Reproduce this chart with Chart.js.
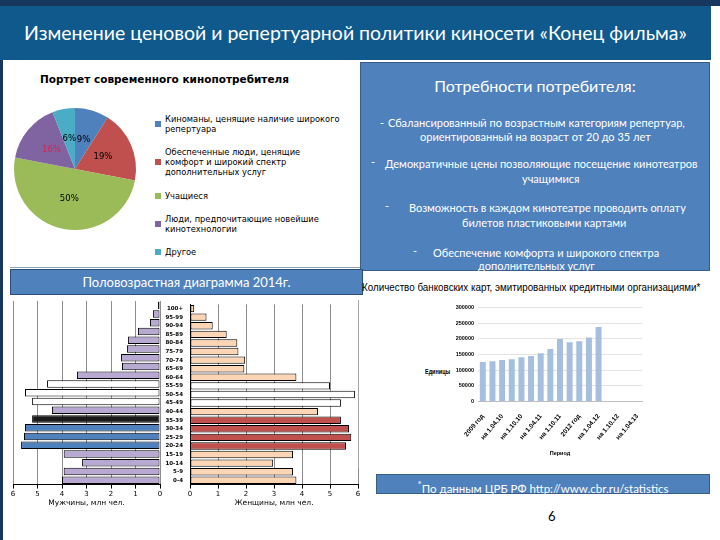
<!DOCTYPE html>
<html>
<head>
<meta charset="utf-8">
<script src="https://cdn.jsdelivr.net/npm/chart.js@4.4.1/dist/chart.umd.min.js"></script>
<style>
body { margin: 0; width: 720px; height: 540px; position: relative; background: #fff; overflow: hidden; font-family: Lato, sans-serif; }
.abs { position: absolute; }
canvas { display: block; }
.box { background: #4F81BD; border: 1px solid #385D8A; color: #fff; box-sizing: border-box; }
.needs span { position: absolute; font-size: 11px; line-height: 14px; white-space: nowrap; }
.fit { white-space: nowrap; transform-origin: 0 0; }
#pieLegend { left: 155px; top: 114px; height: 143px; display: flex; flex-direction: column; justify-content: space-between; font-family: "DejaVu Sans"; font-size: 8.3px; line-height: 10px; color: #000; }
#pieLegend .item { display: flex; align-items: center; }
#pieLegend .sw { width: 6px; height: 6px; margin-right: 4px; flex: none; }
</style>
</head>
<body>

<!-- slide frame -->
<div class="abs" style="left:0;top:0;width:720px;height:6px;background:#17375E"></div>
<div class="abs" style="left:0;top:0;width:3px;height:540px;background:#17375E"></div>
<div class="abs" style="left:0;top:6px;width:711px;height:54px;background:#10598D;color:#fff;font-size:19.5px;line-height:54px;text-align:center">Изменение ценовой и репертуарной политики киносети «Конец фильма»</div>

<!-- pie panel -->
<div class="abs" style="left:40px;top:73px;font-family:'DejaVu Sans';font-weight:bold;font-size:10.5px;color:#000;white-space:nowrap">Портрет современного кинопотребителя</div>
<div class="abs" style="left:10px;top:104px;width:130px;height:130px"><canvas id="pie"></canvas></div>
<div class="abs" id="pieLegend"></div>
<div class="abs" style="left:10px;top:267px;width:350px;height:1px;background:#8EA3BA"></div>

<!-- needs box -->
<div class="abs box needs" style="left:360px;top:62px;width:350px;height:209px">
  <div class="abs" style="left:0;top:13px;width:348px;text-align:center;font-size:16px;line-height:20px">Потребности потребителя:</div>
  <span style="left:19px;top:53px">-</span><span style="left:27px;top:53px">Сбалансированный по возрастным категориям репертуар,</span>
  <span style="left:59px;top:67px">ориентированный на возраст от 20 до 35 лет</span>
  <span style="left:10px;top:92px">-</span><span style="left:24px;top:94px">Демократичные цены позволяющие посещение кинотеатров</span>
  <span style="left:161px;top:109px">учащимися</span>
  <span style="left:24px;top:136px">-</span><span style="left:48px;top:138px">Возможность в каждом кинотеатре проводить оплату</span>
  <span style="left:101px;top:153px">билетов пластиковыми картами</span>
  <span style="left:52px;top:181px">-</span><span style="left:72px;top:183px">Обеспечение комфорта и широкого спектра</span>
  <span style="left:117px;top:196px">дополнительных услуг</span>
</div>

<!-- pyramid -->
<div class="abs box" style="left:10px;top:269px;width:353px;height:26px;font-size:13px;line-height:24px;text-align:center;border-color:#2C4D75">Половозрастная диаграмма 2014г.</div>
<div class="abs" style="left:0;top:297px;width:170px;height:211px"><canvas id="men"></canvas></div>
<div class="abs" style="left:165px;top:297px;width:201px;height:211px"><canvas id="women"></canvas></div>

<!-- cards chart -->
<div class="abs fit" id="cardsTitle" data-w="338" style="left:362px;top:281px;font-family:'Liberation Sans';font-size:11px;color:#000">Количество банковских карт, эмитированных кредитными организациями*</div>
<div class="abs" style="left:358px;top:300px;width:1px;height:168px;background:#A6A6A6"></div>
<div class="abs fit" data-w="25" style="left:425px;top:368px;font-family:'Liberation Sans';font-weight:bold;font-size:7px;color:#000">Единицы</div>
<div class="abs" style="left:428px;top:300px;width:240px;height:161px"><canvas id="cards"></canvas></div>

<div class="abs box" style="left:376px;top:474px;width:334px;height:20px;font-size:11.5px;line-height:19px;text-align:center"><sup style="font-size:10px">*</sup>По данным ЦРБ РФ http://www.cbr.ru/statistics</div>
<div class="abs" style="left:548px;top:508px;font-size:13px;color:#000">6</div>

<script>
// pie: consumer portrait
const pieLabels = [
	["Киноманы, ценящие наличие широкого", "репертуара"],
	["Обеспеченные люди, ценящие", "комфорт и широкий спектр", "дополнительных услуг"],
	["Учащиеся"],
	["Люди, предпочитающие новейшие", "кинотехнологии"],
	["Другое"]
];
const pieValues = [9, 19, 50, 16, 6];

// age-sex pyramid 2014, million people
const ageGroups = ["100+", "95-99", "90-94", "85-89", "80-84", "75-79", "70-74", "65-69", "60-64", "55-59", "50-54",
	"45-49", "40-44", "35-39", "30-34", "25-29", "20-24", "15-19", "10-14", "5-9", "0-4"];
const menValues = [0.08, 0.29, 0.41, 0.9, 1.31, 1.35, 1.59, 1.55, 3.39, 4.61, 5.51,
	5.22, 4.41, 5.22, 5.51, 5.55, 5.67, 3.93, 3.18, 3.93, 4.0];
const womenValues = [0.15, 0.59, 0.81, 1.31, 1.69, 1.73, 1.97, 1.94, 3.8, 5.0, 5.89,
	5.39, 4.57, 5.39, 5.68, 5.76, 5.57, 3.68, 2.97, 3.68, 3.8];
const pyramidTicks = [0, 1, 2, 3, 4, 5, 6];

// bank cards issued
const cardPeriods = ["2009 год", "на 1.01.10", "на 1.04.10", "на 1.07.10", "на 1.10.10", "на 1.01.11",
	"на 1.04.11", "на 1.07.11", "на 1.10.11", "на 1.01.12", "2012 год", "на 1.01.13", "на 1.04.12",
	"на 1.07.12", "на 1.10.12", "на 1.01.13", "на 1.04.13"];
const cardValues = [126000, 128000, 132000, 135000, 141000, 145000, 154000, 167000, 199000,
	189000, 192000, 204000, 237000, null, null, null, null];

const pieColors = ["#4F81BD", "#C0504D", "#9BBB59", "#8064A2", "#4BACC6"];

// squeeze condensed captions to their width
document.querySelectorAll(".fit").forEach(el => {
	el.style.transform = "scaleX(" + (el.dataset.w / el.offsetWidth) + ")";
});

// percent labels inside the pie
const pieLabelPlugin = {
	id: "pieLabels",
	afterDatasetsDraw(chart) {
		const ctx = chart.ctx;
		ctx.save();
		ctx.font = '8.5px "DejaVu Sans"';
		ctx.textAlign = "center";
		ctx.textBaseline = "middle";
		chart.getDatasetMeta(0).data.forEach((arc, i) => {
			const p = arc.tooltipPosition();
			ctx.fillStyle = i == 3 ? "#D9224C" : "#000";
			ctx.fillText(chart.data.datasets[0].data[i] + "%", p.x, p.y);
		});
		ctx.restore();
	}
};

const pie = new Chart(document.getElementById("pie"), {
	type: "pie",
	data: {
		labels: pieLabels,
		datasets: [{ data: pieValues, backgroundColor: pieColors, borderWidth: 0 }]
	},
	options: {
		responsive: true, maintainAspectRatio: false, animation: false,
		layout: { padding: 4 },
		plugins: { legend: { display: false }, tooltip: { enabled: false } }
	},
	plugins: [pieLabelPlugin]
});

// html legend built from the chart data
let legend = document.getElementById("pieLegend");
pie.data.labels.forEach((lines, i) => {
	let item = document.createElement("div");
	item.className = "item";
	item.innerHTML = '<span class="sw" style="background:' + pieColors[i] + '"></span><span>' + lines.join("<br>") + "</span>";
	legend.appendChild(item);
});

// highlighted age bands
function barColor(age, base, target, core) {
	if (["55-59", "50-54", "45-49"].includes(age)) return "#FFFFFF";
	if (age == "35-39") return core;
	if (["30-34", "25-29", "20-24"].includes(age)) return target;
	return base;
}

function pyramidOptions(reverse, title) {
	return {
		indexAxis: "y",
		responsive: true, maintainAspectRatio: false, animation: false,
		layout: { padding: reverse ? { left: 13, right: 10, top: 4 } : { left: 0, right: 8, top: 4 } },
		plugins: { legend: { display: false }, tooltip: { enabled: false } },
		scales: {
			x: {
				reverse: reverse, min: 0, max: 6,
				afterBuildTicks: s => { s.ticks = pyramidTicks.map(v => ({ value: v })); },
				grid: { color: "#8C8C8C", lineWidth: 1, tickLength: 4, tickColor: "#000" },
				border: { color: "#000" },
				ticks: { font: { family: "DejaVu Sans", size: 7 }, color: "#000", padding: 1, maxRotation: 0 },
				title: { display: true, text: title, font: { family: "DejaVu Sans", size: 7.5 }, color: "#000", padding: 0 }
			},
			y: reverse ? { display: false } : {
				afterFit: s => { s.width = 25; },
				grid: { display: false, drawTicks: true, tickLength: 3 },
				border: { color: "#000" },
				ticks: { font: { family: "DejaVu Sans", size: 5.5, weight: "bold" }, color: "#000", padding: 4, autoSkip: false }
			}
		}
	};
}

new Chart(document.getElementById("men"), {
	type: "bar",
	data: {
		labels: ageGroups,
		datasets: [{
			data: menValues,
			backgroundColor: ageGroups.map(a => barColor(a, "#B7A9D1", "#4F81BD", "#1A1A1A")),
			borderColor: "#000", borderWidth: 1, borderSkipped: false,
			barPercentage: 0.86, categoryPercentage: 1
		}]
	},
	options: pyramidOptions(true, "Мужчины, млн чел.")
});

new Chart(document.getElementById("women"), {
	type: "bar",
	data: {
		labels: ageGroups,
		datasets: [{
			data: womenValues,
			backgroundColor: ageGroups.map(a => barColor(a, "#FCD5B5", "#C0504D", "#C0504D")),
			borderColor: "#000", borderWidth: 1, borderSkipped: false,
			barPercentage: 0.86, categoryPercentage: 1
		}]
	},
	options: pyramidOptions(false, "Женщины, млн чел.")
});

const smallBold = { family: "Liberation Sans", size: 5.5, weight: "bold" };

new Chart(document.getElementById("cards"), {
	type: "bar",
	data: {
		labels: cardPeriods,
		datasets: [{ data: cardValues, backgroundColor: "#A7BFDE", categoryPercentage: 0.62, barPercentage: 1 }]
	},
	options: {
		responsive: true, maintainAspectRatio: false, animation: false,
		layout: { padding: { top: 2, right: 26 } },
		plugins: { legend: { display: false }, tooltip: { enabled: false } },
		scales: {
			x: {
				grid: { display: false },
				border: { color: "#BFBFBF" },
				ticks: {
					font: { family: "Liberation Sans", size: 6.5, weight: "bold" }, color: "#000",
					autoSkip: false, minRotation: 50, maxRotation: 50,
					callback: function (v, i) { return i % 2 == 0 ? this.getLabelForValue(v) : ""; }
				},
				title: { display: true, text: "Период", font: smallBold, color: "#000", padding: { top: 6 } }
			},
			y: {
				min: 0, max: 300000,
				afterFit: s => { s.width = 50; },
				grid: { color: "#E3E3E3", drawTicks: false },
				border: { display: false },
				ticks: { stepSize: 50000, font: smallBold, color: "#000", padding: 4, callback: v => String(v) }
			}
		}
	}
});
</script>
</body>
</html>
